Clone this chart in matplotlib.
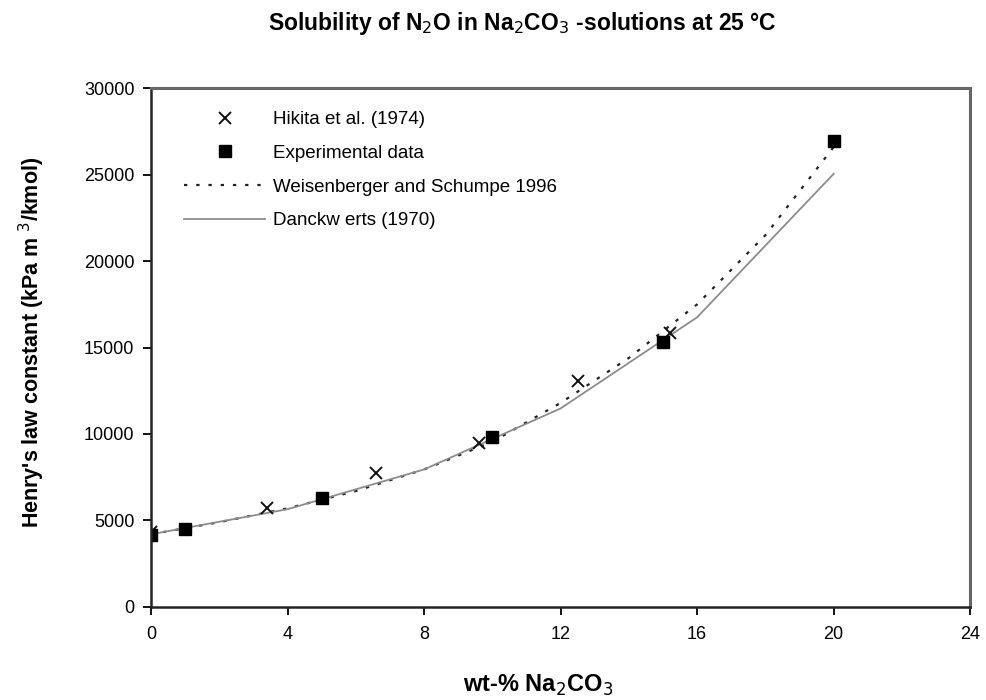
import matplotlib
matplotlib.use("Agg")
import matplotlib.pyplot as plt

# data
exp_x = [0, 1, 5, 10, 15, 20]
exp_y = [4150, 4520, 6270, 9800, 15320, 26950]

hikita_x = [0, 3.4, 6.6, 9.6, 12.5, 15.2]
hikita_y = [4350, 5740, 7770, 9460, 13050, 15850]

weis_x = [0, 2, 4, 6, 8, 10, 12, 14, 16, 18, 20]
weis_y = [4200, 4900, 5700, 6700, 7950, 9550, 11800, 14400, 17500, 21500, 26600]

danck_x = [0, 4, 8, 12, 16, 20]
danck_y = [4200, 5650, 7950, 11480, 16750, 25050]

x_ticks = [0, 4, 8, 12, 16, 20, 24]
y_ticks = [0, 5000, 10000, 15000, 20000, 25000, 30000]

plt.rcParams['font.family'] = ['Liberation Sans', 'DejaVu Sans']

fig = plt.figure(figsize=(9.87, 7.0), dpi=100)
ax = fig.add_axes([0.153, 0.133, 0.830, 0.741])

ax.plot(weis_x, weis_y, color='#222222', linestyle=(0, (1.5, 4)), linewidth=1.6,
        label='Weisenberger and Schumpe 1996')
ax.plot(danck_x, danck_y, color='#8c8c8c', linestyle='-', linewidth=1.3,
        label='Danckw erts (1970)')
ax.plot(hikita_x, hikita_y, linestyle='none', marker='x', color='#111111',
        markersize=9, markeredgewidth=1.4, label='Hikita et al. (1974)')
ax.plot(exp_x, exp_y, linestyle='none', marker='s', color='black',
        markersize=8, label='Experimental data')

ax.set_xlim(0, 24)
ax.set_ylim(0, 30000)
ax.set_xticks(x_ticks)
ax.set_yticks(y_ticks)
ax.tick_params(axis='both', direction='out', length=6, width=1.3, labelsize=13, pad=6)
ax.tick_params(axis='x', pad=8)

for side in ['left', 'bottom']:
    ax.spines[side].set_linewidth(1.8)
    ax.spines[side].set_color('#222222')
for side in ['right', 'top']:
    ax.spines[side].set_linewidth(2.2)
    ax.spines[side].set_color('#666666')

ax.set_xlabel('wt-% Na$_2$CO$_3$', fontsize=17, fontweight='bold', va='center')
ax.xaxis.set_label_coords(0.473, -0.152)
ax.set_ylabel("Henry's law constant (kPa m $^3$/kmol)", fontsize=15.5, fontweight='bold')
ax.yaxis.set_label_coords(-0.127, 0.51)

fig.text(0.529, 0.967, 'Solubility of N$_2$O in Na$_2$CO$_3$ -solutions at 25 °C',
         ha='center', va='center', fontsize=16.5, fontweight='bold')

handles, labels = ax.get_legend_handles_labels()
order = [2, 3, 0, 1]
ax.legend([handles[i] for i in order], [labels[i] for i in order],
          loc='upper left', bbox_to_anchor=(0.02, 0.988), frameon=False,
          fontsize=13.5, handlelength=4.3, handletextpad=0.45, labelspacing=0.88)

fig.savefig('out.png', dpi=100)
